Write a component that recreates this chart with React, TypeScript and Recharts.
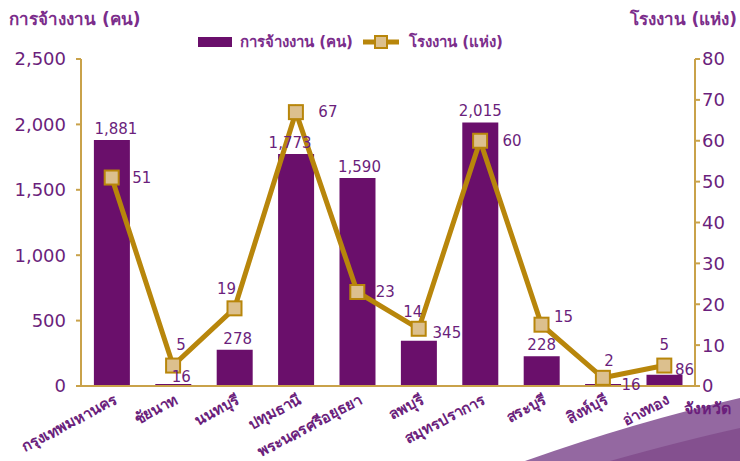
import React from "react";
import {
  Bar,
  ComposedChart,
  LabelList,
  Line,
  XAxis,
  YAxis,
} from "recharts";

const provinces = [
  "กรุงเทพมหานคร",
  "ชัยนาท",
  "นนทบุรี",
  "ปทุมธานี",
  "พระนครศรีอยุธยา",
  "ลพบุรี",
  "สมุทรปราการ",
  "สระบุรี",
  "สิงห์บุรี",
  "อ่างทอง",
];

const employment = [1881, 16, 278, 1773, 1590, 345, 2015, 228, 16, 86];

const factories = [51, 5, 19, 67, 23, 14, 60, 15, 2, 5];

const leftTicks = [0, 500, 1000, 1500, 2000, 2500];
const rightTicks = [0, 10, 20, 30, 40, 50, 60, 70, 80];

const data = provinces.map((name, i) => ({
  name,
  employment: employment[i],
  factories: factories[i],
}));

const PURPLE = "#6a0f6b";
const TEXT = "#6b1f7c";
const GOLD = "#b8860b";
const AXIS = "#c9a24a";
const MARKER = "#dcc08e";
const FONT = "'DejaVu Sans', Tahoma, sans-serif";

// label nudges so the numbers do not sit on top of each other
const lineLabelShift = [
  [30, 5],
  [8, -16],
  [-8, -14],
  [32, 5],
  [28, 5],
  [-6, -12],
  [32, 5],
  [22, -3],
  [6, -12],
  [0, -16],
];

const barLabelShift = [
  [4, -6],
  [8, -2],
  [3, -6],
  [-6, -6],
  [2, -6],
  [28, -3],
  [0, -6],
  [0, -6],
  [28, 6],
  [20, 0],
];

const fmt = (v: number) => v.toLocaleString("en-US");

const SquareDot = (props: any) => {
  const { cx, cy } = props;
  if (cx == null || cy == null) return null;
  return (
    <rect
      x={cx - 7}
      y={cy - 7}
      width={14}
      height={14}
      fill={MARKER}
      stroke={GOLD}
      strokeWidth={2}
    />
  );
};

const LineLabel = (props: any) => {
  const { x, y, value, index } = props;
  const [dx, dy] = lineLabelShift[index] || [0, 0];
  return (
    <text
      x={x + dx}
      y={y + dy}
      fill={TEXT}
      fontSize={15}
      fontFamily={FONT}
      textAnchor="middle"
    >
      {value}
    </text>
  );
};

const BarLabel = (props: any) => {
  const { x, y, width, value, index } = props;
  const [dx, dy] = barLabelShift[index] || [0, 0];
  return (
    <text
      x={x + width / 2 + dx}
      y={y + dy}
      fill={TEXT}
      fontSize={15}
      fontFamily={FONT}
      textAnchor="middle"
    >
      {fmt(value)}
    </text>
  );
};

const ProvinceTick = (props: any) => {
  const { x, y, payload } = props;
  return (
    <g transform={`translate(${x + 6},${y + 9})`}>
      <text
        transform="rotate(-28)"
        textAnchor="end"
        fill={TEXT}
        fontSize={15}
        fontWeight={600}
        fontFamily={FONT}
      >
        {payload.value}
      </text>
    </g>
  );
};

export default function App() {
  return (
    <div
      style={{
        position: "absolute",
        left: 0,
        top: 0,
        width: 740,
        height: 461,
        background: "#fff",
        fontFamily: FONT,
        overflow: "hidden",
      }}
    >
      <svg
        width={740}
        height={461}
        style={{ position: "absolute", left: 0, top: 0 }}
      >
        <path d="M 525 461 Q 635 422 740 398 L 740 461 Z" fill="#9468a1" />
        <path d="M 610 461 Q 685 440 740 428 L 740 461 Z" fill="#84508f" />
      </svg>

      <div
        style={{
          position: "absolute",
          left: 9,
          top: 5,
          fontSize: 17,
          color: "#7b2d8b",
          fontWeight: "bold",
        }}
      >
        การจ้างงาน (คน)
      </div>
      <div
        style={{
          position: "absolute",
          right: 3,
          top: 5,
          fontSize: 17,
          color: "#7b2d8b",
          fontWeight: "bold",
        }}
      >
        โรงงาน (แห่ง)
      </div>

      <div
        style={{
          position: "absolute",
          left: 198,
          top: 30,
          display: "flex",
          alignItems: "center",
          fontSize: 15,
          color: "#7b2d8b",
          fontWeight: "bold",
        }}
      >
        <span
          style={{
            display: "inline-block",
            width: 34,
            height: 10,
            background: PURPLE,
            marginRight: 8,
          }}
        />
        <span>การจ้างงาน (คน)</span>
        <svg width={40} height={16} style={{ margin: "0 8px" }}>
          <line x1={2} y1={8} x2={38} y2={8} stroke={GOLD} strokeWidth={5} />
          <rect
            x={14}
            y={2}
            width={12}
            height={12}
            fill={MARKER}
            stroke={GOLD}
            strokeWidth={2}
          />
        </svg>
        <span>โรงงาน (แห่ง)</span>
      </div>

      <div
        style={{
          position: "absolute",
          left: 684,
          top: 396,
          fontSize: 16,
          color: TEXT,
          fontWeight: 600,
        }}
      >
        จังหวัด
      </div>

      <div style={{ position: "absolute", left: 0, top: 0 }}>
        <ComposedChart
          width={740}
          height={461}
          data={data}
          margin={{ top: 59, right: 0, bottom: 0, left: 0 }}
          barCategoryGap="21%"
        >
          <XAxis
            dataKey="name"
            interval={0}
            height={75}
            axisLine={{ stroke: AXIS, strokeWidth: 2 }}
            tickLine={false}
            tick={<ProvinceTick />}
          />
          <YAxis
            yAxisId="left"
            width={81}
            domain={[0, 2500]}
            ticks={leftTicks}
            tickFormatter={fmt}
            axisLine={{ stroke: AXIS, strokeWidth: 2 }}
            tickLine={{ stroke: AXIS, strokeWidth: 2 }}
            tickSize={5}
            tick={{ fill: TEXT, fontSize: 18, fontFamily: FONT, dx: -8 }}
          />
          <YAxis
            yAxisId="right"
            orientation="right"
            width={45}
            domain={[0, 80]}
            ticks={rightTicks}
            axisLine={{ stroke: AXIS, strokeWidth: 2 }}
            tickLine={{ stroke: AXIS, strokeWidth: 2 }}
            tickSize={5}
            tick={{ fill: TEXT, fontSize: 18, fontFamily: FONT }}
          />
          <Bar
            yAxisId="left"
            dataKey="employment"
            fill={PURPLE}
            isAnimationActive={false}
          >
            <LabelList dataKey="employment" content={<BarLabel />} />
          </Bar>
          <Line
            yAxisId="right"
            dataKey="factories"
            stroke={GOLD}
            strokeWidth={5}
            dot={<SquareDot />}
            activeDot={false}
            isAnimationActive={false}
          >
            <LabelList dataKey="factories" content={<LineLabel />} />
          </Line>
        </ComposedChart>
      </div>
    </div>
  );
}
